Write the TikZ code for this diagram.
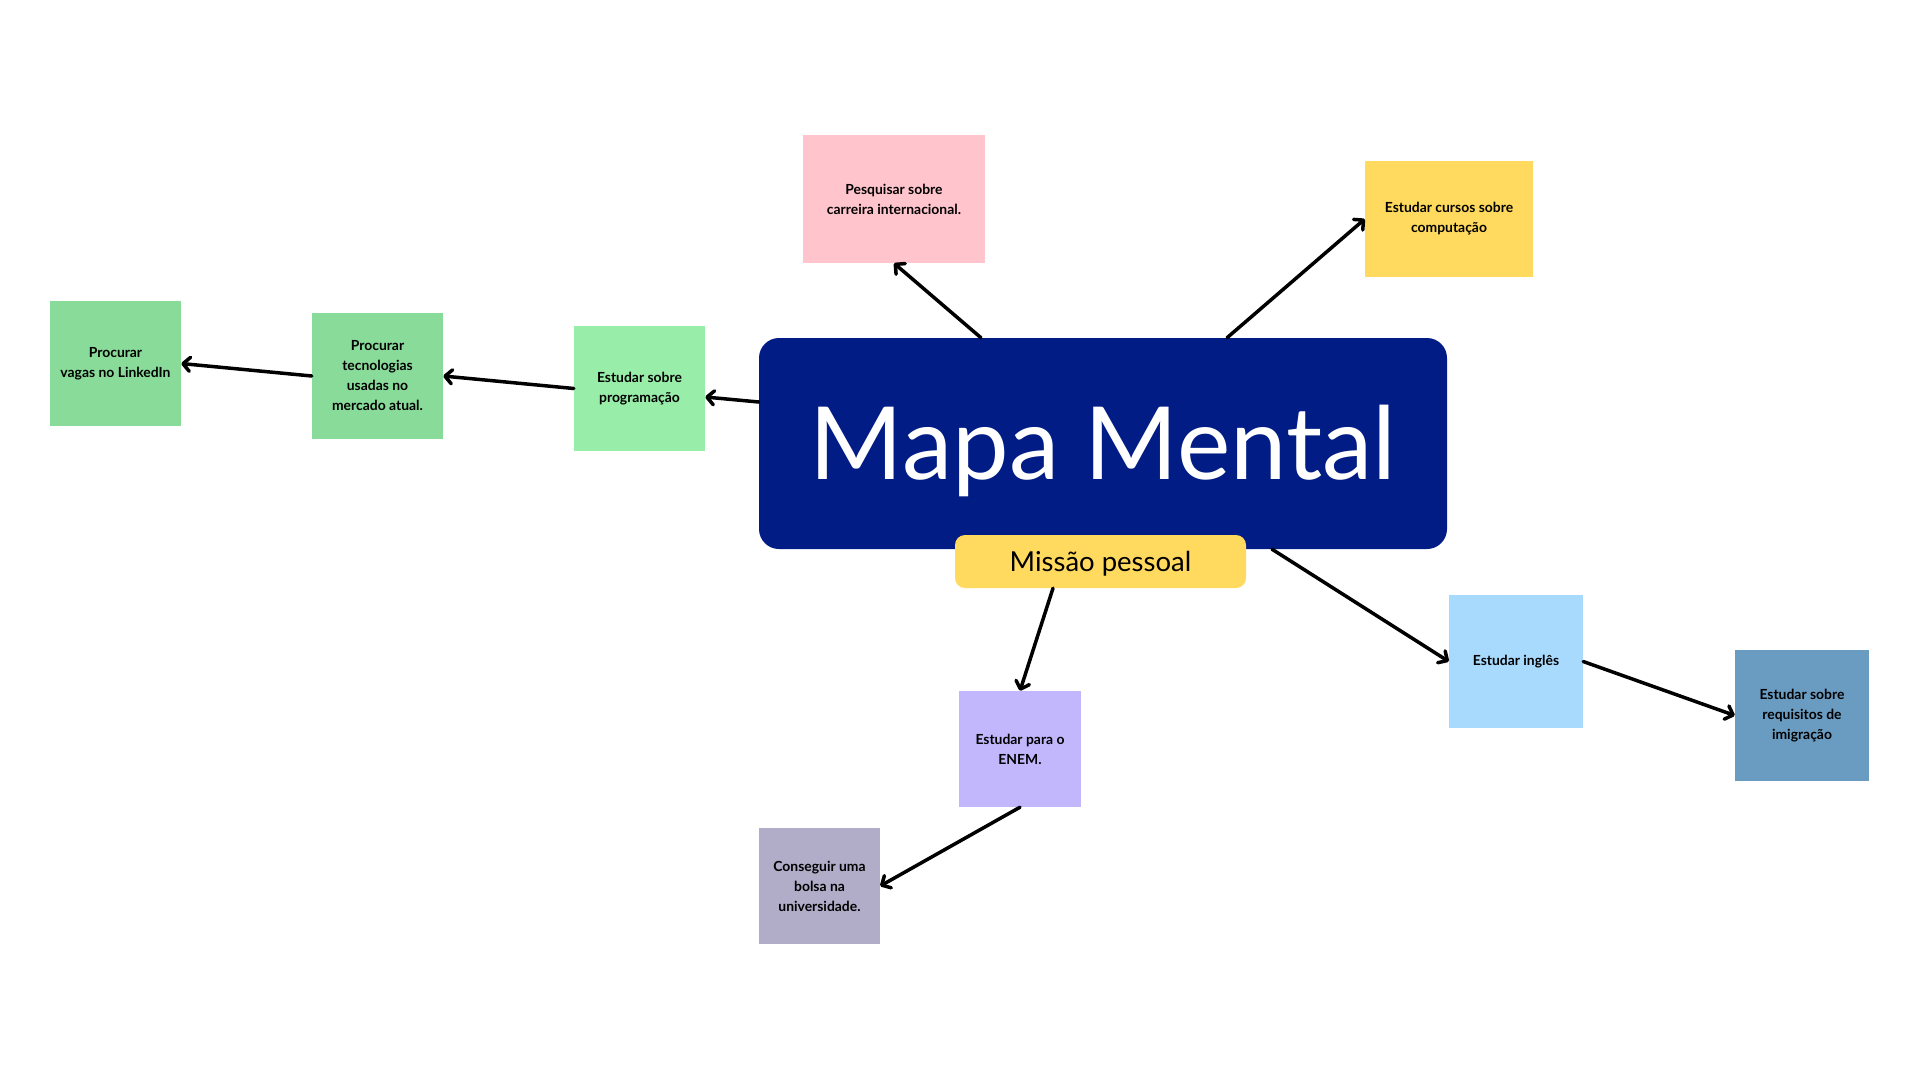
\documentclass[tikz,border=0pt]{standalone}
\usepackage{fontspec}
\setmainfont{Lato}
\usetikzlibrary{arrows.meta}
\definecolor{azulmapa}{RGB}{1,28,133}
\definecolor{amarelo}{RGB}{255,218,94}
\definecolor{rosa}{RGB}{255,196,204}
\definecolor{verdeclaro}{RGB}{152,237,168}
\definecolor{verde}{RGB}{137,219,153}
\definecolor{azulclaro}{RGB}{168,218,253}
\definecolor{azulaco}{RGB}{106,155,193}
\definecolor{lilas}{RGB}{194,183,253}
\definecolor{cinzalilas}{RGB}{177,172,199}
\begin{document}
\begin{tikzpicture}[x=1pt,y=-1pt,>={Straight Barb[round,length=7pt,width=14pt]},
    caixa/.style={fill=#1,align=center,inner sep=0pt,
        font=\fontsize{13.9}{20}\selectfont\bfseries},
    seta/.style={->,line width=3.5pt,line cap=round}]
    \useasboundingbox[fill=white] (0,0) rectangle (1920,1080);
    %\draw[ultra thin,gray!20] (0,0) grid[step=100] (1920,1080);
    \node[fill=azulmapa,rounded corners=20pt,minimum width=688pt,minimum height=211pt,
        text=white,font=\fontsize{101}{103}\selectfont,text height=72pt,text depth=0pt]
        (mapa) at (1103,443.5) {Mapa Mental};
    \node[fill=amarelo,rounded corners=10pt,minimum width=291pt,minimum height=53pt,
        font=\fontsize{27.5}{29}\selectfont,text height=20pt,text depth=0pt]
        (missao) at (1100.5,561.5) {Missão pessoal};
    \node[caixa=rosa,minimum width=182pt,minimum height=128pt] (carreira) at (894,199)
        {Pesquisar sobre\\carreira internacional.};
    \node[caixa=amarelo,minimum width=168pt,minimum height=116pt] (cursos) at (1449,219)
        {Estudar cursos sobre\\computação};
    \node[caixa=verdeclaro,minimum width=131pt,minimum height=125pt] (programacao) at (639.5,388.5)
        {Estudar sobre\\programação};
    \node[caixa=verde,minimum width=131pt,minimum height=126pt] (tecnologias) at (377.5,376)
        {Procurar\\tecnologias\\usadas no\\mercado atual.};
    \node[caixa=verde,minimum width=131pt,minimum height=125pt] (vagas) at (115.5,363.5)
        {Procurar\\vagas no LinkedIn};
    \node[caixa=azulclaro,minimum width=134pt,minimum height=133pt] (ingles) at (1516,661.5)
        {Estudar inglês};
    \node[caixa=azulaco,minimum width=134pt,minimum height=131pt] (imigracao) at (1802,715.5)
        {Estudar sobre\\requisitos de\\imigração};
    \node[caixa=lilas,minimum width=122pt,minimum height=116pt] (enem) at (1020,749)
        {Estudar para o\\ENEM.};
    \node[caixa=cinzalilas,minimum width=121pt,minimum height=116pt] (bolsa) at (819.5,886)
        {Conseguir uma\\bolsa na\\universidade.};
    \draw[seta] ([yshift=41.5pt]mapa.west) -- ([yshift=-8.5pt]programacao.east);
    \draw[seta] (programacao.west) -- (tecnologias.east);
    \draw[seta] (tecnologias.west) -- (vagas.east);
    \draw[seta] ([xshift=-122pt]mapa.north) -- (carreira.south);
    \draw[seta] ([xshift=124pt]mapa.north) -- (cursos.west);
    \draw[seta] ([xshift=169pt]mapa.south) -- (ingles.west);
    \draw[seta] (ingles.east) -- (imigracao.west);
    \draw[seta] ([xshift=-47.5pt]missao.south) -- (enem.north);
    \draw[seta] (enem.south) -- (bolsa.east);
\end{tikzpicture}
\end{document}
